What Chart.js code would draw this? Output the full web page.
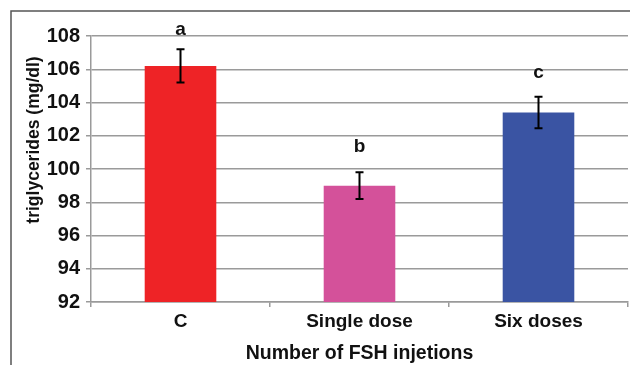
<!DOCTYPE html>
<html>
<head>
<meta charset="utf-8">
<script src="https://cdn.jsdelivr.net/npm/chart.js@4/dist/chart.umd.min.js"></script>
<style>
  html, body { margin: 0; padding: 0; background: #fff; }
  #wrap { position: relative; width: 630px; height: 365px; }
</style>
</head>
<body>
<div id="wrap"><canvas id="c" width="630" height="365"></canvas></div>
<script>
// Mean triglyceride levels by FSH injection group
const categories = ['C', 'Single dose', 'Six doses'];
const means = [106.2, 99.0, 103.4];
const errors = [1.0, 0.8, 0.95];
const letters = ['a', 'b', 'c'];
const barColors = ['#EE2326', '#D4519A', '#3A54A3'];
const yTicks = [92, 94, 96, 98, 100, 102, 104, 106, 108];
const yTitle = 'triglycerides (mg/dl)';
const xTitle = 'Number of FSH injetions';

const FONT = 'Arial, "Liberation Sans", Helvetica, sans-serif';
const GRID = '#9a9a9a';
const INK = '#111';

// Error bars with significance letters above them
const errorBars = {
  id: 'errorBars',
  afterDatasetsDraw(chart, args, opts) {
    const ctx = chart.ctx;
    const y = chart.scales.y;
    const meta = chart.getDatasetMeta(0);
    ctx.save();
    meta.data.forEach((bar, i) => {
      const yTop = y.getPixelForValue(means[i] + errors[i]);
      const yBot = y.getPixelForValue(means[i] - errors[i]);
      const x = bar.x;
      ctx.strokeStyle = '#000';
      ctx.lineWidth = 2;
      ctx.beginPath();
      ctx.moveTo(x, yTop); ctx.lineTo(x, yBot);
      ctx.moveTo(x - 4, yTop); ctx.lineTo(x + 4, yTop);
      ctx.moveTo(x - 4, yBot); ctx.lineTo(x + 4, yBot);
      ctx.stroke();
      ctx.fillStyle = INK;
      ctx.font = 'bold 19px ' + FONT;
      ctx.textAlign = 'center';
      ctx.textBaseline = 'alphabetic';
      ctx.fillText(letters[i], x, yTop - opts.gaps[i]);
    });
    ctx.restore();
  }
};

// Outer frame along the top and left edges, plus the vertical axis title
const frame = {
  id: 'frame',
  beforeDraw(chart) {
    const ctx = chart.ctx;
    ctx.save();
    ctx.fillStyle = '#fff';
    ctx.fillRect(0, 0, chart.width, chart.height);
    ctx.strokeStyle = '#555';
    ctx.lineWidth = 1.5;
    ctx.beginPath();
    ctx.moveTo(11, chart.height);
    ctx.lineTo(11, 11);
    ctx.lineTo(chart.width, 11);
    ctx.stroke();
    ctx.restore();
  },
  afterDraw(chart) {
    const ctx = chart.ctx;
    ctx.save();
    ctx.translate(34, 140);
    ctx.rotate(-Math.PI / 2);
    ctx.fillStyle = INK;
    ctx.font = 'bold 17.5px ' + FONT;
    ctx.textAlign = 'center';
    ctx.textBaseline = 'middle';
    ctx.fillText(yTitle, 0, 0);
    ctx.restore();
  }
};

new Chart(document.getElementById('c'), {
  type: 'bar',
  data: {
    labels: categories,
    datasets: [{
      data: means,
      backgroundColor: barColors,
      borderWidth: 0,
      categoryPercentage: 1.0,
      barPercentage: 0.40
    }]
  },
  options: {
    responsive: false,
    animation: false,
    devicePixelRatio: 1,
    layout: { padding: { left: 0, top: 36, right: 2, bottom: 0 } },
    plugins: {
      legend: { display: false },
      tooltip: { enabled: false },
      errorBars: { gaps: [14, 20, 19] }
    },
    scales: {
      x: {
        grid: {
          display: true,
          drawOnChartArea: false,
          offset: true,
          color: GRID,
          lineWidth: 1.5,
          tickLength: 5
        },
        border: { display: true, color: GRID, width: 1.5 },
        ticks: {
          color: INK,
          font: { family: FONT, size: 19, weight: 'bold' },
          padding: 3,
          maxRotation: 0
        },
        title: {
          display: true,
          text: xTitle,
          color: INK,
          font: { family: FONT, size: 19.5, weight: 'bold' },
          padding: { top: 0, bottom: 0 }
        },
        afterFit(scale) { scale.height = 63; }
      },
      y: {
        min: 92,
        max: 108,
        afterBuildTicks(scale) { scale.ticks = yTicks.map(v => ({ value: v })); },
        grid: {
          color: GRID,
          lineWidth: 1.5,
          tickLength: 5
        },
        border: { display: true, color: GRID, width: 1.5 },
        ticks: {
          color: INK,
          font: { family: FONT, size: 20, weight: 'bold' },
          padding: 6
        },
        title: { display: false },
        afterFit(scale) { scale.width = 91; }
      }
    }
  },
  plugins: [frame, errorBars]
});
</script>
</body>
</html>
